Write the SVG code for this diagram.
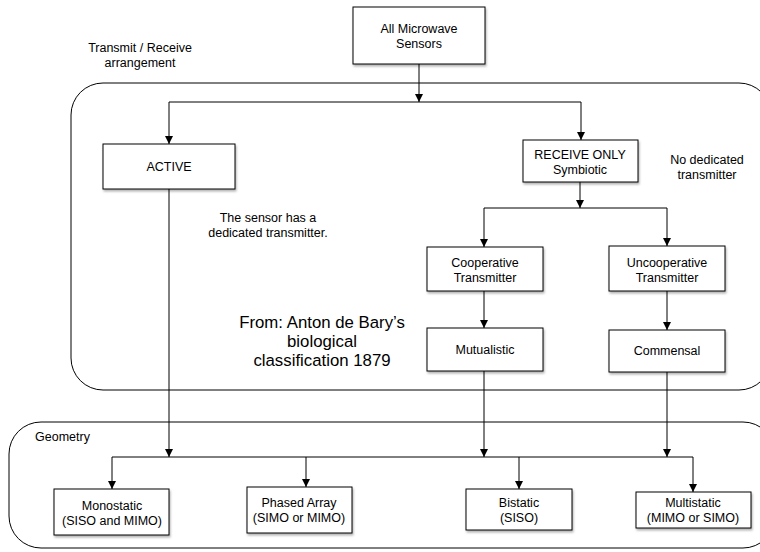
<svg xmlns="http://www.w3.org/2000/svg" width="760" height="552" viewBox="0 0 760 552">
<defs>
<marker id="ah" markerWidth="10" markerHeight="10" refX="9" refY="5" orient="auto" markerUnits="userSpaceOnUse">
<path d="M1,1 L9,5 L1,9 Z" fill="#000"/>
</marker>
<filter id="sh" x="-10%" y="-10%" width="130%" height="140%">
<feDropShadow dx="1" dy="2" stdDeviation="1" flood-color="#000" flood-opacity="0.3"/>
</filter>
<style>
.box{fill:#fff;stroke:#000;stroke-width:1;filter:url(#sh)}
.grp{fill:none;stroke:#000;stroke-width:1}
.t{font-family:"Liberation Sans",Arial,sans-serif;font-size:12.5px;fill:#000;text-anchor:middle}
.big{font-size:16.8px}
.ln{fill:none;stroke:#000;stroke-width:1}
.ar{fill:none;stroke:#000;stroke-width:1;marker-end:url(#ah)}
</style>
</defs>
<rect width="760" height="552" fill="#fff"/>

<g id="group-transmit">
<rect class="grp" x="71" y="83" width="700" height="307" rx="32" ry="32"/>
<text class="t" x="140" y="52">Transmit / Receive</text>
<text class="t" x="140" y="67">arrangement</text>
</g>
<g id="group-geometry">
<rect class="grp" x="9" y="422" width="766" height="126" rx="32" ry="32"/>
<text class="t" x="35" y="441" style="text-anchor:start">Geometry</text>
</g>

<g id="connectors">
<path class="ar" d="M419,64 V102"/>
<path class="ln" d="M169,102 H581"/>
<path class="ar" d="M169,102 V144"/>
<path class="ar" d="M581,102 V140"/>
<path class="ar" d="M580,182 V208"/>
<path class="ln" d="M484,208 H667"/>
<path class="ar" d="M484,208 V247"/>
<path class="ar" d="M667,208 V246"/>
<path class="ar" d="M484,291 V328"/>
<path class="ar" d="M667,291 V330"/>
<path class="ar" d="M169,189 V457"/>
<path class="ar" d="M484,371 V457"/>
<path class="ar" d="M667,372 V457"/>
<path class="ln" d="M112,457 H693"/>
<path class="ar" d="M112,457 V489"/>
<path class="ar" d="M306,457 V487"/>
<path class="ar" d="M519,457 V489"/>
<path class="ar" d="M693,457 V492"/>
</g>

<g id="node-all">
<rect class="box" x="353" y="7" width="132" height="57"/>
<text class="t" x="419" y="33">All Microwave</text>
<text class="t" x="419" y="48">Sensors</text>
</g>
<g id="node-active">
<rect class="box" x="103" y="144" width="132" height="45"/>
<text class="t" x="169" y="171">ACTIVE</text>
</g>
<g id="node-receive">
<rect class="box" x="523" y="140" width="115" height="42"/>
<text class="t" x="580" y="159">RECEIVE ONLY</text>
<text class="t" x="580" y="174">Symbiotic</text>
</g>
<g id="node-coop">
<rect class="box" x="427" y="247" width="116" height="44"/>
<text class="t" x="485" y="267">Cooperative</text>
<text class="t" x="485" y="282">Transmitter</text>
</g>
<g id="node-uncoop">
<rect class="box" x="609" y="246" width="116" height="45"/>
<text class="t" x="667" y="267">Uncooperative</text>
<text class="t" x="667" y="282">Transmitter</text>
</g>
<g id="node-mutualistic">
<rect class="box" x="427" y="328" width="116" height="43"/>
<text class="t" x="485" y="354">Mutualistic</text>
</g>
<g id="node-commensal">
<rect class="box" x="609" y="330" width="116" height="42"/>
<text class="t" x="667" y="355">Commensal</text>
</g>
<g id="node-mono">
<rect class="box" x="54" y="489" width="115" height="46"/>
<text class="t" x="112" y="510">Monostatic</text>
<text class="t" x="112" y="525">(SISO and MIMO)</text>
</g>
<g id="node-phased">
<rect class="box" x="247" y="487" width="105" height="46"/>
<text class="t" x="299" y="507">Phased Array</text>
<text class="t" x="299" y="522">(SIMO or MIMO)</text>
</g>
<g id="node-bistatic">
<rect class="box" x="466" y="489" width="106" height="41"/>
<text class="t" x="519" y="507">Bistatic</text>
<text class="t" x="519" y="522">(SISO)</text>
</g>
<g id="node-multi">
<rect class="box" x="636" y="492" width="115" height="36"/>
<text class="t" x="693" y="507">Multistatic</text>
<text class="t" x="693" y="522">(MIMO or SIMO)</text>
</g>

<g id="notes">
<text class="t" x="268" y="222">The sensor has a</text>
<text class="t" x="268" y="237">dedicated transmitter.</text>
<text class="t" x="707" y="164">No dedicated</text>
<text class="t" x="707" y="179">transmitter</text>
<text class="t big" x="322" y="328">From: Anton de Bary’s</text>
<text class="t big" x="322" y="347">biological</text>
<text class="t big" x="322" y="366">classification 1879</text>
</g>
</svg>
